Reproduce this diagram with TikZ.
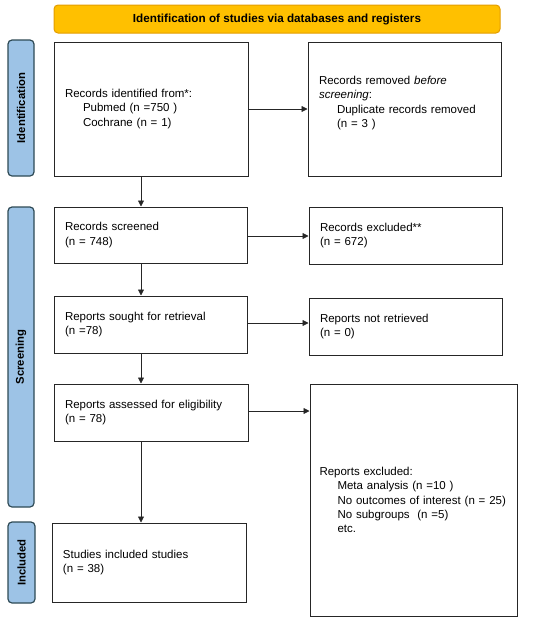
\documentclass[tikz,border=0pt]{standalone}
\usepackage{fontspec}
\setmainfont{Liberation Sans}
\usetikzlibrary{arrows.meta}
\definecolor{bannerfill}{HTML}{FFC000}
\definecolor{bannerline}{HTML}{E39D00}
\definecolor{barfill}{HTML}{9DC3E6}
\definecolor{barline}{HTML}{2E4A55}
\tikzset{
  boxnode/.style={draw=black!85, line width=1pt, rectangle, inner xsep=11pt, inner ysep=2pt,
    align=left, font=\fontsize{11.5}{14.2}\selectfont},
  barnode/.style={draw=barline, fill=barfill, line width=1.2pt, rounded corners=4pt,
    minimum width=26pt, inner sep=0pt},
  barlabel/.style={rotate=90, font=\fontsize{11.3}{12}\selectfont\bfseries},
  arr/.style={-{Triangle[length=6pt,width=6pt]}, line width=0.8pt, draw=black!85},
}
\newcommand{\ind}{\hspace*{18pt}}
\begin{document}
\begin{tikzpicture}[x=1pt,y=-1pt]
\useasboundingbox (0,0) rectangle (550,625);
% banner
\node[draw=bannerline, fill=bannerfill, line width=1pt, rounded corners=4pt,
      minimum width=446pt, minimum height=28pt, inner sep=0pt,
      font=\fontsize{11.7}{12}\selectfont\bfseries] (banner) at (277,19)
      {Identification of studies via databases and registers};
% side bars
\node[barnode, minimum height=136pt] (barI) at (21,108) {};
\node[barlabel] (labI) at (barI) {Identification};
\node[barnode, minimum height=300pt] (barS) at (21,357) {};
\node[barlabel] (labS) at (barS) {Screening};
\node[barnode, minimum width=27pt, minimum height=81pt] (barN) at (21.5,562.5) {};
\node[barlabel] (labN) at (barN) {Included};
% boxes
\node[boxnode, minimum width=194pt, minimum height=134pt, text width=172pt] (b1) at (151,109)
  {Records identified from*:\\\ind Pubmed (n =750 )\\\ind Cochrane (n = 1)};
\node[boxnode, minimum width=193pt, minimum height=134pt, text width=171pt] (b2) at (404.5,109)
  {Records removed \textit{before}\\\textit{screening}:\\\ind Duplicate records removed\\\ind (n = 3 )\\\mbox{}};
\node[boxnode, minimum width=193pt, minimum height=56pt, text width=171pt] (b3) at (150.5,235)
  {Records screened\\(n = 748)};
\node[boxnode, minimum width=193pt, minimum height=57pt, text width=171pt] (b4) at (405.5,235.5)
  {Records excluded**\\(n = 672)};
\node[boxnode, minimum width=193pt, minimum height=57pt, text width=171pt] (b5) at (150.5,324.5)
  {Reports sought for retrieval\\(n =78)};
\node[boxnode, minimum width=193pt, minimum height=57pt, text width=171pt] (b6) at (405.5,326.5)
  {Reports not retrieved\\(n = 0)};
\node[boxnode, minimum width=194pt, minimum height=57pt, text width=172pt] (b7) at (151,412.5)
  {Reports assessed for eligibility\\(n = 78)};
\node[boxnode, inner xsep=9.5pt, minimum width=207pt, minimum height=232pt, text width=188pt] (b8) at (413.5,500)
  {Reports excluded:\\\ind Meta analysis (n =10 )\\\ind \mbox{No outcomes of interest (n = 25)}\\\ind No subgroups~~(n =5)\\\ind etc.};
\node[boxnode, minimum width=194pt, minimum height=79pt, text width=172pt] (b9) at (149,562.5)
  {Studies included studies\\(n = 38)};
% connectors
\coordinate (vx) at (141,0);
\draw[arr] (b1.south -| vx) -- (b3.north -| vx);
\draw[arr] (b3.south -| vx) -- (b5.north -| vx);
\draw[arr] (b5.south -| vx) -- (b7.north -| vx);
\draw[arr] (b7.south -| vx) -- (b9.north -| vx);
\draw[arr] (b1.east) -- (b2.west);
\draw[arr] ([yshift=-1pt]b3.east) -- ([yshift=-1pt]b3.east -| b4.west);
\draw[arr] ([yshift=1.5pt]b5.east) -- ([yshift=1.5pt]b5.east -| b6.west);
\draw[arr] ([yshift=1.5pt]b7.east) -- ([yshift=1.5pt]b7.east -| b8.west);
\end{tikzpicture}
\end{document}
